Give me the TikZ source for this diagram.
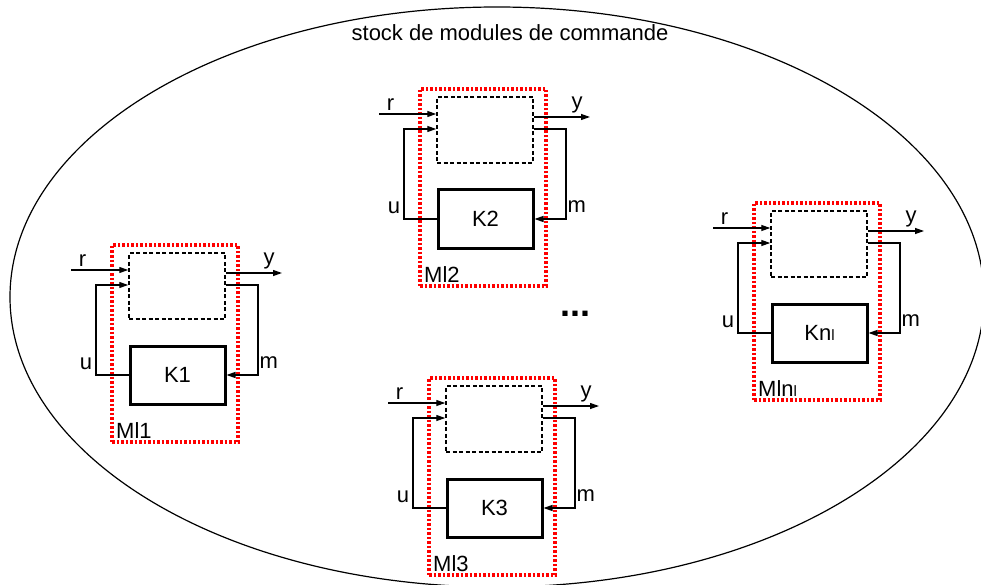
\documentclass[tikz,border=0pt]{standalone}
\usepackage{fontspec}
\setmainfont{Liberation Sans}
\usetikzlibrary{arrows.meta, positioning}

\begin{document}
\begin{tikzpicture}[
    x=1pt, y=-1pt,
    every node/.style={font=\fontsize{22}{26}\selectfont},
    frame/.style={rectangle, draw=red, line width=4pt, dash pattern=on 2.5pt off 2pt, minimum width=126pt, minimum height=197pt, inner sep=0pt},
    plant/.style={rectangle, draw, line width=1.5pt, dash pattern=on 4pt off 2.5pt, minimum width=96pt, minimum height=66pt, inner sep=0pt},
    ctrl/.style={rectangle, draw, line width=3pt, minimum width=95pt, minimum height=58pt, inner sep=0pt},
    sig/.style={line width=1.2pt},
    tag/.style={anchor=base west, inner sep=0pt},
    >={Triangle[length=9pt, width=6pt]},
]
\useasboundingbox (0,0) rectangle (981,585);

% Stock
\draw[line width=1.2pt] (497,297) ellipse [x radius=487pt, y radius=290pt];
\node (title) at (510,33) {stock de modules de commande};
\node[font=\fontsize{36}{36}\selectfont\bfseries] (dots) at (575,314) {...};

% Module 1
\node[frame] (M1) at (175,343.5) {};
\node[plant] (P1) at (177,286) {};
\node[ctrl] (K1) at (177.5,375) {K1};
\coordinate (r1) at (71,270);
\coordinate (u1) at (96,285);
\coordinate (y1) at (282,273);
\coordinate (m1) at (258,285);
\draw[sig, ->] (r1) -- node[above, pos=0.2] {r} (r1 -| P1.west);
\draw[sig, ->] (K1.west) -| node[left, pos=0.56] {u} (u1) -- (u1 -| P1.west);
\draw[sig, ->] (y1 -| P1.east) -- node[above, pos=0.77] {y} (y1);
\draw[sig, ->] (m1 -| P1.east) -- (m1) |- node[right, inner sep=1pt, pos=0.43] {m} (K1.east);
\node[tag] (L1) at (116,438) {Ml1};

% Module 2
\node[frame] (M2) at (483,187.5) {};
\node[plant] (P2) at (485,130) {};
\node[ctrl] (K2) at (485.5,219) {K2};
\coordinate (r2) at (379,114);
\coordinate (u2) at (404,129);
\coordinate (y2) at (590,117);
\coordinate (m2) at (566,129);
\draw[sig, ->] (r2) -- node[above, pos=0.2] {r} (r2 -| P2.west);
\draw[sig, ->] (K2.west) -| node[left, pos=0.56] {u} (u2) -- (u2 -| P2.west);
\draw[sig, ->] (y2 -| P2.east) -- node[above, pos=0.77] {y} (y2);
\draw[sig, ->] (m2 -| P2.east) -- (m2) |- node[right, inner sep=1pt, pos=0.43] {m} (K2.east);
\node[tag] (L2) at (424,282) {Ml2};

% Module 3
\node[frame] (M3) at (492,476.5) {};
\node[plant] (P3) at (494,419) {};
\node[ctrl] (K3) at (494.5,508) {K3};
\coordinate (r3) at (388,403);
\coordinate (u3) at (413,418);
\coordinate (y3) at (599,406);
\coordinate (m3) at (575,418);
\draw[sig, ->] (r3) -- node[above, pos=0.2] {r} (r3 -| P3.west);
\draw[sig, ->] (K3.west) -| node[left, pos=0.56] {u} (u3) -- (u3 -| P3.west);
\draw[sig, ->] (y3 -| P3.east) -- node[above, pos=0.77] {y} (y3);
\draw[sig, ->] (m3 -| P3.east) -- (m3) |- node[right, inner sep=1pt, pos=0.43] {m} (K3.east);
\node[tag] (L3) at (433,571) {Ml3};

% Module nl
\node[frame] (Mn) at (817,301.5) {};
\node[plant] (Pn) at (819,244) {};
\node[ctrl] (Kn) at (819.5,333) {Kn{\fontsize{15}{15}\selectfont l}};
\coordinate (rn) at (713,228);
\coordinate (un) at (738,243);
\coordinate (yn) at (924,231);
\coordinate (mn) at (900,243);
\draw[sig, ->] (rn) -- node[above, pos=0.2] {r} (rn -| Pn.west);
\draw[sig, ->] (Kn.west) -| node[left, pos=0.56] {u} (un) -- (un -| Pn.west);
\draw[sig, ->] (yn -| Pn.east) -- node[above, pos=0.77] {y} (yn);
\draw[sig, ->] (mn -| Pn.east) -- (mn) |- node[right, inner sep=1pt, pos=0.43] {m} (Kn.east);
\node[tag] (Ln) at (758,396) {Mln{\fontsize{15}{15}\selectfont l}};

\end{tikzpicture}
\end{document}
